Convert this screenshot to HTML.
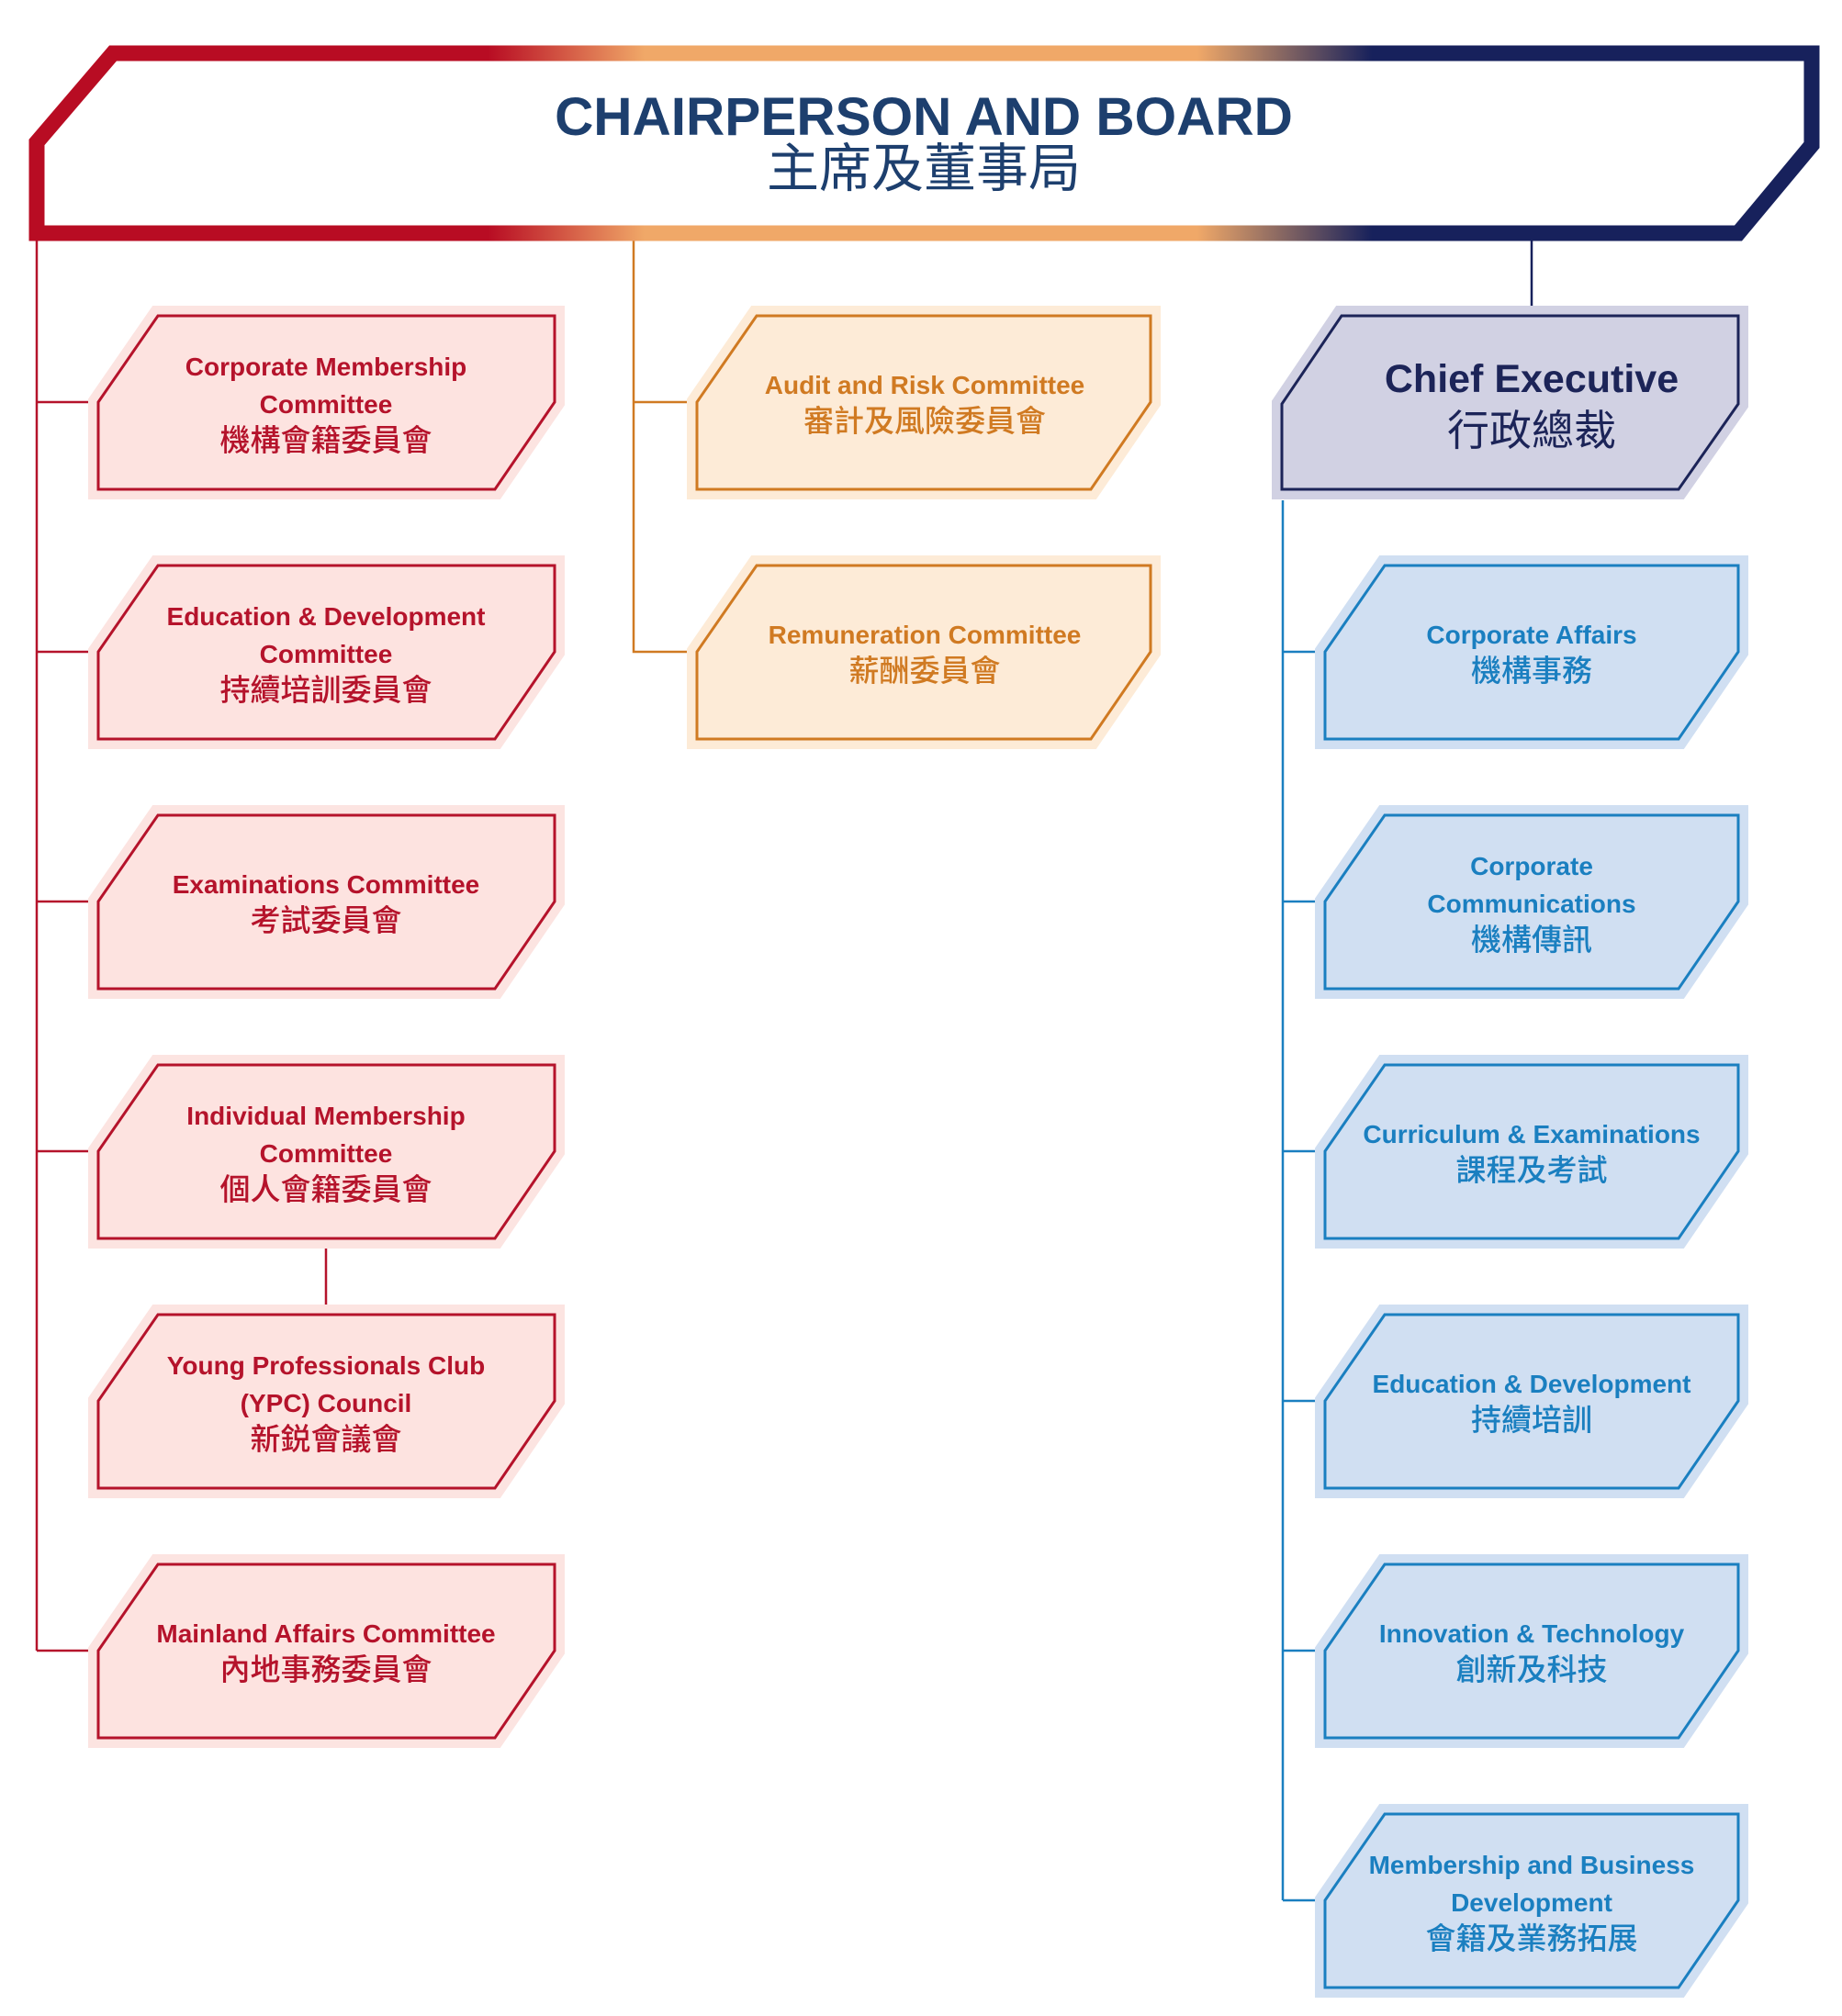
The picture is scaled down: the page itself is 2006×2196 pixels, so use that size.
<!DOCTYPE html>
<html><head><meta charset="utf-8"><style>
html,body{margin:0;padding:0;background:#fff}
svg{display:block}
text{font-family:"Liberation Sans","Noto Sans CJK TC",sans-serif;text-anchor:middle;font-weight:bold}
text.c{font-family:"Noto Sans CJK TC","Liberation Sans",sans-serif;font-weight:500;font-size:33px}
</style></head><body>
<svg width="2006" height="2196" viewBox="0 0 2006 2196" xmlns="http://www.w3.org/2000/svg">
<defs>
<linearGradient id="g" gradientUnits="userSpaceOnUse" x1="0" y1="0" x2="2006" y2="0">
<stop offset="0.265" stop-color="#b80c23"/>
<stop offset="0.35" stop-color="#f0a868"/>
<stop offset="0.65" stop-color="#f0a868"/>
<stop offset="0.745" stop-color="#17215c"/>
</linearGradient>
</defs>
<g fill="none" stroke-width="2.5">
<path stroke="#b5132b" d="M40,262 V1798 M40,438 H107 M40,710 H107 M40,982 H107 M40,1254 H107 M40,1798 H107 M355,1360 V1425"/>
<path stroke="#d07a22" d="M690,262 V710 H759 M690,438 H759"/>
<path stroke="#17215c" d="M1668,262 V335"/>
<path stroke="#1a7fc0" d="M1397,545 V2070 M1397,710 H1443 M1397,982 H1443 M1397,1254 H1443 M1397,1526 H1443 M1397,1798 H1443 M1397,2070 H1443"/>
</g>
<path d="M123,58 L1973,58 L1973,158 L1893,254 L40,254 L40,155 Z" fill="#fff" stroke="url(#g)" stroke-width="17"/>
<text x="1006" y="147" font-size="58.5" fill="#1d3f6e">CHAIRPERSON AND BOARD</text>
<text class="c" x="1006" y="203" style="font-size:57px;font-weight:normal" fill="#1d3f6e">主席及董事局</text>

<g stroke-linejoin="miter">
<g fill="#fde3e0">
<path d="M172,344 H604 V438 L539,533 H107 V438 Z" stroke="#fce4e1" stroke-width="22"/>
<path d="M172,344 H604 V438 L539,533 H107 V438 Z" stroke="#b5132b" stroke-width="3"/>
<g transform="translate(0,272)"><path d="M172,344 H604 V438 L539,533 H107 V438 Z" stroke="#fce4e1" stroke-width="22"/><path d="M172,344 H604 V438 L539,533 H107 V438 Z" stroke="#b5132b" stroke-width="3"/></g>
<g transform="translate(0,544)"><path d="M172,344 H604 V438 L539,533 H107 V438 Z" stroke="#fce4e1" stroke-width="22"/><path d="M172,344 H604 V438 L539,533 H107 V438 Z" stroke="#b5132b" stroke-width="3"/></g>
<g transform="translate(0,816)"><path d="M172,344 H604 V438 L539,533 H107 V438 Z" stroke="#fce4e1" stroke-width="22"/><path d="M172,344 H604 V438 L539,533 H107 V438 Z" stroke="#b5132b" stroke-width="3"/></g>
<g transform="translate(0,1088)"><path d="M172,344 H604 V438 L539,533 H107 V438 Z" stroke="#fce4e1" stroke-width="22"/><path d="M172,344 H604 V438 L539,533 H107 V438 Z" stroke="#b5132b" stroke-width="3"/></g>
<g transform="translate(0,1360)"><path d="M172,344 H604 V438 L539,533 H107 V438 Z" stroke="#fce4e1" stroke-width="22"/><path d="M172,344 H604 V438 L539,533 H107 V438 Z" stroke="#b5132b" stroke-width="3"/></g>
</g>
<g fill="#fdebd7" transform="translate(5,0)">
<path d="M819,344 H1248 V438 L1183,533 H754 V438 Z" stroke="#fdebd7" stroke-width="22"/>
<path d="M819,344 H1248 V438 L1183,533 H754 V438 Z" stroke="#d07a22" stroke-width="3"/>
<g transform="translate(0,272)"><path d="M819,344 H1248 V438 L1183,533 H754 V438 Z" stroke="#fdebd7" stroke-width="22"/><path d="M819,344 H1248 V438 L1183,533 H754 V438 Z" stroke="#d07a22" stroke-width="3"/></g>
</g>
<path d="M1461,344 H1893 V440 L1828,533 H1396 V440 Z" fill="#d1d1e3" stroke="#d1d1e3" stroke-width="22"/>
<path d="M1461,344 H1893 V440 L1828,533 H1396 V440 Z" fill="#d1d1e3" stroke="#1c2458" stroke-width="3"/>
<g fill="#d0dff2">
<g transform="translate(0,272)"><path d="M1508,344 H1893 V438 L1828,533 H1443 V438 Z" stroke="#d0dff2" stroke-width="22"/><path d="M1508,344 H1893 V438 L1828,533 H1443 V438 Z" stroke="#1a7fc0" stroke-width="3"/></g>
<g transform="translate(0,544)"><path d="M1508,344 H1893 V438 L1828,533 H1443 V438 Z" stroke="#d0dff2" stroke-width="22"/><path d="M1508,344 H1893 V438 L1828,533 H1443 V438 Z" stroke="#1a7fc0" stroke-width="3"/></g>
<g transform="translate(0,816)"><path d="M1508,344 H1893 V438 L1828,533 H1443 V438 Z" stroke="#d0dff2" stroke-width="22"/><path d="M1508,344 H1893 V438 L1828,533 H1443 V438 Z" stroke="#1a7fc0" stroke-width="3"/></g>
<g transform="translate(0,1088)"><path d="M1508,344 H1893 V438 L1828,533 H1443 V438 Z" stroke="#d0dff2" stroke-width="22"/><path d="M1508,344 H1893 V438 L1828,533 H1443 V438 Z" stroke="#1a7fc0" stroke-width="3"/></g>
<g transform="translate(0,1360)"><path d="M1508,344 H1893 V438 L1828,533 H1443 V438 Z" stroke="#d0dff2" stroke-width="22"/><path d="M1508,344 H1893 V438 L1828,533 H1443 V438 Z" stroke="#1a7fc0" stroke-width="3"/></g>
<g transform="translate(0,1632)"><path d="M1508,344 H1893 V438 L1828,533 H1443 V438 Z" stroke="#d0dff2" stroke-width="22"/><path d="M1508,344 H1893 V438 L1828,533 H1443 V438 Z" stroke="#1a7fc0" stroke-width="3"/></g>
</g>
</g>

<g fill="#b5132b" font-size="28">
<text x="355" y="409">Corporate Membership</text>
<text x="355" y="450">Committee</text>
<text class="c" x="355" y="491">機構會籍委員會</text>
<text x="355" y="681">Education &amp; Development</text>
<text x="355" y="722">Committee</text>
<text class="c" x="355" y="763">持續培訓委員會</text>
<text x="355" y="973">Examinations Committee</text>
<text class="c" x="355" y="1014">考試委員會</text>
<text x="355" y="1225">Individual Membership</text>
<text x="355" y="1266">Committee</text>
<text class="c" x="355" y="1307">個人會籍委員會</text>
<text x="355" y="1497">Young Professionals Club</text>
<text x="355" y="1538">(YPC) Council</text>
<text class="c" x="355" y="1579">新鋭會議會</text>
<text x="355" y="1789">Mainland Affairs Committee</text>
<text class="c" x="355" y="1830">內地事務委員會</text>
</g>
<g fill="#d07a22" font-size="28">
<text x="1007" y="429">Audit and Risk Committee</text>
<text class="c" x="1007" y="470">審計及風險委員會</text>
<text x="1007" y="701">Remuneration Committee</text>
<text class="c" x="1007" y="742">薪酬委員會</text>
</g>
<text x="1668" y="427" font-size="43" fill="#1c2458">Chief Executive</text>
<text class="c" x="1668" y="485" style="font-size:46px;font-weight:normal" fill="#1c2458">行政總裁</text>
<g fill="#1a7fc0" font-size="28">
<text x="1668" y="701">Corporate Affairs</text>
<text class="c" x="1668" y="742">機構事務</text>
<text x="1668" y="953">Corporate</text>
<text x="1668" y="994">Communications</text>
<text class="c" x="1668" y="1035">機構傳訊</text>
<text x="1668" y="1245">Curriculum &amp; Examinations</text>
<text class="c" x="1668" y="1286">課程及考試</text>
<text x="1668" y="1517">Education &amp; Development</text>
<text class="c" x="1668" y="1558">持續培訓</text>
<text x="1668" y="1789">Innovation &amp; Technology</text>
<text class="c" x="1668" y="1830">創新及科技</text>
<text x="1668" y="2041">Membership and Business</text>
<text x="1668" y="2082">Development</text>
<text class="c" x="1668" y="2123">會籍及業務拓展</text>
</g>
</svg>
</body></html>
